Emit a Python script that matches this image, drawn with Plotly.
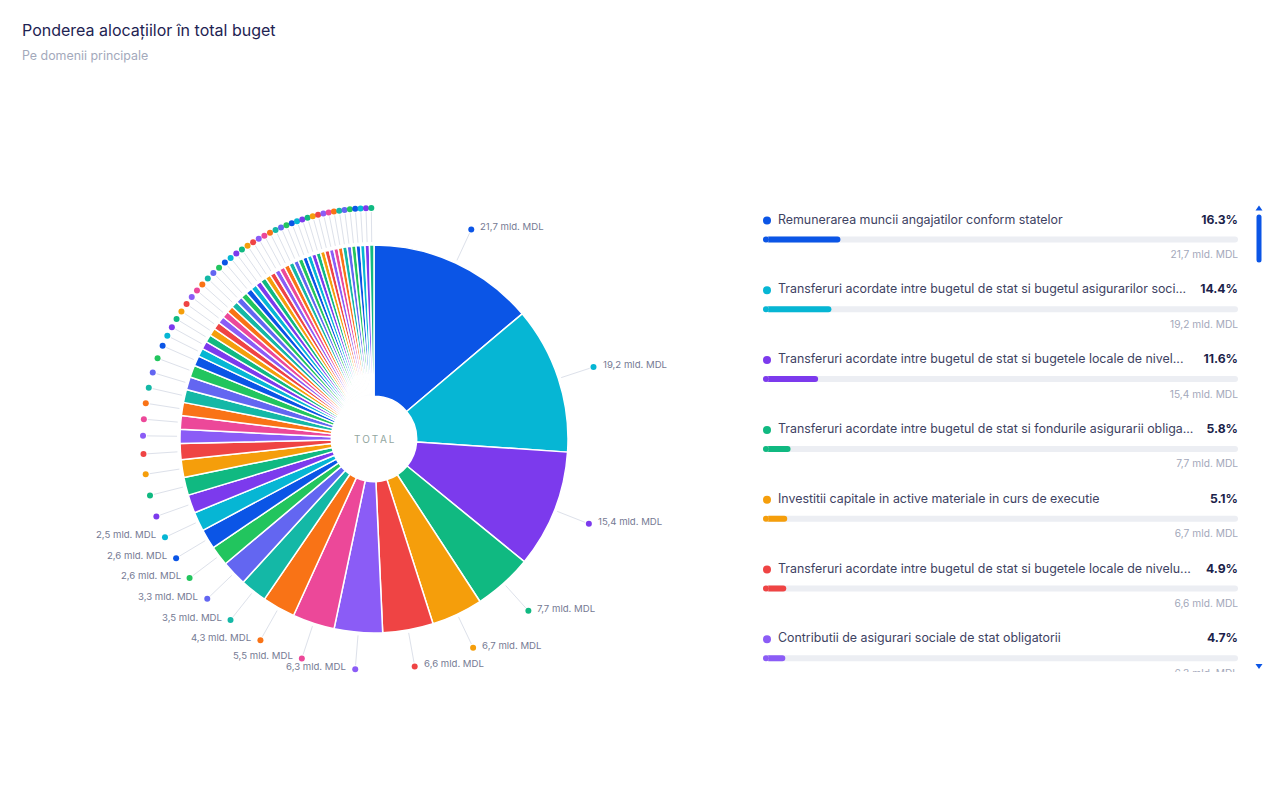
import math
import plotly.graph_objects as go

# ---------------- data ----------------
slice_values = [21.7, 19.2, 15.4, 7.7, 6.7, 6.6, 6.3, 5.5, 4.3, 3.5, 3.3, 2.6, 2.6, 2.5,
                2.4, 2.35, 2.3, 2.1, 1.85, 1.75, 1.72, 1.7, 1.68, 1.58,
                1.32, 1.08, 1.02, 1.0, 0.98, 0.96, 0.91, 0.89, 0.87, 0.86,
                0.85, 0.84, 0.82, 0.79, 0.76, 0.74, 0.72, 0.71, 0.7, 0.69,
                0.68, 0.66, 0.64, 0.63, 0.61, 0.6, 0.6, 0.59, 0.59, 0.59,
                0.59, 0.58, 0.58, 0.58, 0.58, 0.58, 0.58, 0.58, 0.58, 0.58]
labeled_count = 14

palette = ["#0B55E6", "#06B6D4", "#7C3AED", "#10B981", "#F59E0B", "#EF4444",
           "#8B5CF6", "#EC4899", "#F97316", "#14B8A6", "#6366F1", "#22C55E"]

list_labels = [
    "Remunerarea muncii angajatilor conform statelor",
    "Transferuri acordate intre bugetul de stat si bugetul asigurarilor soci...",
    "Transferuri acordate intre bugetul de stat si bugetele locale de nivel...",
    "Transferuri acordate intre bugetul de stat si fondurile asigurarii obliga...",
    "Investitii capitale in active materiale in curs de executie",
    "Transferuri acordate intre bugetul de stat si bugetele locale de nivelu...",
    "Contributii de asigurari sociale de stat obligatorii",
]
list_pct = [16.3, 14.4, 11.6, 5.8, 5.1, 4.9, 4.7]
list_values = [21.7, 19.2, 15.4, 7.7, 6.7, 6.6, 6.3]

title_text = "Ponderea alocațiilor în total buget"
subtitle_text = "Pe domenii principale"
center_text = "T\u2009O\u2009T\u2009A\u2009L"
unit = " mld. MDL"

# ---------------- layout constants ----------------
W, H = 1280, 800
CX, CY, R = 374, 439, 194
HOLE = 0.22
FONT = "Inter"


def fmt(v):
    return f"{v:.1f}".replace(".", ",") + unit


colors = [palette[i % len(palette)] for i in range(len(slice_values))]

fig = go.Figure()

# pie
fig.add_trace(go.Pie(
    values=slice_values,
    labels=[f"Domeniu {i + 1}" for i in range(len(slice_values))],
    sort=False, direction="clockwise", rotation=0, hole=HOLE,
    marker=dict(colors=colors, line=dict(color="white", width=1.5)),
    textinfo="none", hoverinfo="skip", showlegend=False,
    domain=dict(x=[(CX - R) / W, (CX + R) / W], y=[1 - (CY + R) / H, 1 - (CY - R) / H]),
))

# leader lines + dots (angles derived from the values)
total = sum(slice_values)
mids = []
cum = 0.0
for v in slice_values:
    mids.append((cum + v / 2) / total * 2 * math.pi)
    cum += v

lx, ly = [], []
dx, dy = [], []
for a in mids:
    s, c = math.sin(a), math.cos(a)
    lx += [CX + 197 * s, CX + 227 * s, None]
    ly += [CY - 197 * c, CY - 227 * c, None]
    dx.append(CX + 231 * s)
    dy.append(CY - 231 * c)

fig.add_trace(go.Scatter(x=lx, y=ly, mode="lines", line=dict(color="#DDE1EA", width=1),
                         hoverinfo="skip", showlegend=False, xaxis="x", yaxis="y"))
fig.add_trace(go.Scatter(x=dx, y=dy, mode="markers", marker=dict(color=colors, size=6),
                         hoverinfo="skip", showlegend=False, xaxis="x", yaxis="y"))

annotations = []
for i in range(labeled_count):
    a = mids[i]
    right = a < math.pi
    annotations.append(dict(
        x=dx[i] + (8 if right else -8), y=dy[i] - 2.5, xref="x", yref="y",
        text=fmt(slice_values[i]), showarrow=False,
        xanchor="left" if right else "right", yanchor="middle",
        font=dict(family=FONT, size=9.6, color="#757A93"), borderpad=0,
    ))

annotations.append(dict(x=CX, y=CY, xref="x", yref="y", text=center_text, showarrow=False,
                        font=dict(family=FONT, size=10, color="#93A79F"), xanchor="center", yanchor="middle"))
annotations.append(dict(x=21, y=30, xref="x", yref="y", text=title_text, showarrow=False,
                        xanchor="left", yanchor="middle", borderpad=0,
                        font=dict(family=FONT, size=16, color="#1E2352")))
annotations.append(dict(x=21, y=55, xref="x", yref="y", text=subtitle_text, showarrow=False,
                        xanchor="left", yanchor="middle", borderpad=0,
                        font=dict(family=FONT, size=12.4, color="#A3A9BB")))

# ---------------- list on the right ----------------
X0, X1 = 763, 1238
LIST_TOP, LIST_BOT = 200, 672
row_y = [220.5 + 69.8 * i for i in range(len(list_labels))]
bar_y = [y + 19 for y in row_y]
val_y = [y + 35 for y in row_y]
n = len(list_labels)


def px2u(px):
    return (px - X0) / (X1 - X0) * 100


cap = px2u(X0 + 3)  # centre of the rounded left cap
list_colors = colors[:n]

# track bars and value bars (right end rounded by the bar, left end by a circle)
fig.add_trace(go.Bar(orientation="h", y=bar_y, x=[100 - cap] * n, base=[cap] * n, width=6,
                     marker=dict(color="#ECEEF3", cornerradius=3, line=dict(width=0)),
                     hoverinfo="skip", showlegend=False, xaxis="x2", yaxis="y2"))
fig.add_trace(go.Bar(orientation="h", y=bar_y, x=[p - cap for p in list_pct], base=[cap] * n,
                     width=6, marker=dict(color=list_colors, cornerradius=3, line=dict(width=0)),
                     hoverinfo="skip", showlegend=False, xaxis="x2", yaxis="y2"))
fig.add_trace(go.Scatter(x=[cap] * (2 * n), y=bar_y + bar_y, mode="markers",
                         marker=dict(color=["#ECEEF3"] * n + list_colors, size=6, line=dict(width=0)),
                         hoverinfo="skip", showlegend=False, xaxis="x2", yaxis="y2"))

fig.add_trace(go.Scatter(x=[px2u(767)] * n, y=row_y, mode="markers",
                         marker=dict(color=list_colors, size=8, line=dict(width=0)), hoverinfo="skip",
                         showlegend=False, xaxis="x2", yaxis="y2"))
fig.add_trace(go.Scatter(x=[px2u(778)] * n, y=row_y, mode="text", text=list_labels,
                         textposition="middle right",
                         textfont=dict(family=FONT, size=12.4, color="#3D4262"),
                         hoverinfo="skip", showlegend=False, xaxis="x2", yaxis="y2"))
fig.add_trace(go.Scatter(x=[100] * n, y=row_y, mode="text",
                         text=[f"<b>{p:.1f}%</b>" for p in list_pct],
                         textposition="middle left",
                         textfont=dict(family=FONT, size=12.2, color="#1C1F4A"),
                         hoverinfo="skip", showlegend=False, xaxis="x2", yaxis="y2"))
fig.add_trace(go.Scatter(x=[100] * n, y=val_y, mode="text",
                         text=[fmt(v) for v in list_values],
                         textposition="middle left",
                         textfont=dict(family=FONT, size=10.2, color="#A3A8BA"),
                         hoverinfo="skip", showlegend=False, xaxis="x2", yaxis="y2"))

# scrollbar decoration
shapes = [
    dict(type="path", xref="x", yref="y", fillcolor="#0B55E6", line=dict(width=0),
         path="M 1256.5,217 Q 1256.5,214.5 1259,214.5 Q 1261.5,214.5 1261.5,217 L 1261.5,260 "
              "Q 1261.5,262.5 1259,262.5 Q 1256.5,262.5 1256.5,260 Z"),
    dict(type="path", xref="x", yref="y", fillcolor="#0B55E6", line=dict(width=0),
         path="M 1255.5,210.5 L 1262.5,210.5 L 1259,205.5 Z"),
    dict(type="path", xref="x", yref="y", fillcolor="#0B55E6", line=dict(width=0),
         path="M 1255.5,664 L 1262.5,664 L 1259,669 Z"),
]

fig.update_layout(
    width=W, height=H, autosize=False,
    margin=dict(l=0, r=0, t=0, b=0),
    paper_bgcolor="white", plot_bgcolor="rgba(0,0,0,0)",
    barmode="overlay", hovermode=False, showlegend=False,
    xaxis=dict(domain=[0, 1], range=[0, W], visible=False, fixedrange=True),
    yaxis=dict(domain=[0, 1], range=[H, 0], visible=False, fixedrange=True),
    xaxis2=dict(domain=[X0 / W, X1 / W], range=[0, 100], visible=False, anchor="y2", fixedrange=True),
    yaxis2=dict(domain=[1 - LIST_BOT / H, 1 - LIST_TOP / H], range=[LIST_BOT, LIST_TOP],
                visible=False, anchor="x2", fixedrange=True),
    annotations=annotations, shapes=shapes,
    font=dict(family=FONT),
)

fig.write_html("out.html", config={"displayModeBar": False})
